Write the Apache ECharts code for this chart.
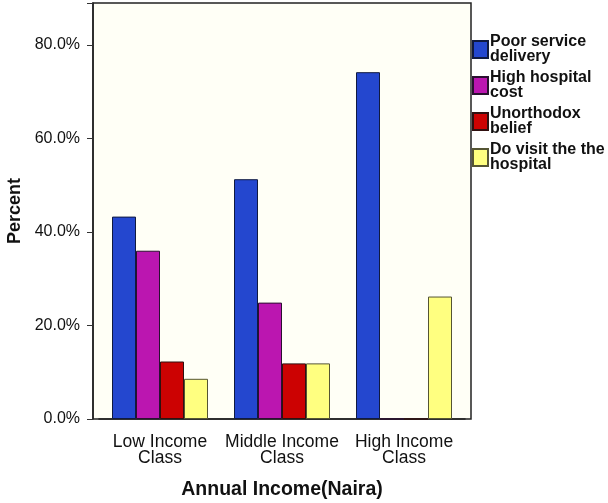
<!DOCTYPE html>
<html>
<head>
<meta charset="utf-8">
<script src="https://cdn.jsdelivr.net/npm/echarts@6/dist/echarts.min.js"></script>
<style>html,body{margin:0;padding:0;background:#fff;}#c{width:608px;height:503px;}</style>
</head>
<body>
<div id="c"></div>
<script>
const categories = ['Low Income\nClass', 'Middle Income\nClass', 'High Income\nClass'];
const seriesNames = ['Poor service delivery', 'High hospital cost', 'Unorthodox belief', 'Do visit the the hospital'];
const legendLabels = ['Poor service\ndelivery', 'High hospital\ncost', 'Unorthodox\nbelief', 'Do visit the the\nhospital'];
const poorService = [43.3, 51.3, 74.2];
const highCost = [36.0, 24.9, 0];
const unorthodox = [12.3, 11.9, 0];
const doVisit = [8.6, 11.9, 26.2];
const yTicks = [0, 20, 40, 60, 80];

const values = [poorService, highCost, unorthodox, doVisit];
const colors = ['#2447cf', '#bb16b0', '#cc0202', '#ffff80'];
const borders = ['#101a40', '#2a1030', '#301010', '#555533'];
const font = 'Liberation Sans, Arial, sans-serif';

const chart = echarts.init(document.getElementById('c'));
chart.setOption({
  animation: false,
  backgroundColor: '#ffffff',
  graphic: [{
    type: 'rect', z: -10, silent: true,
    shape: { x: 93, y: 3, width: 378, height: 416 },
    style: { fill: '#fffff6', stroke: '#222', lineWidth: 1.5 }
  }],
  grid: { left: 99, right: 143, top: 3, bottom: 84, containLabel: false, outerBoundsMode: 'none' },
  legend: {
    orient: 'vertical', left: 472, top: 34, padding: 0,
    itemWidth: 15, itemHeight: 17, itemGap: 5,
    icon: 'rect',
    data: seriesNames,
    formatter: n => legendLabels[seriesNames.indexOf(n)],
    textStyle: { fontFamily: font, fontSize: 16, fontWeight: 'bold', color: '#111', lineHeight: 15, padding: [0, 0, 0, -3] }
  },
  xAxis: {
    type: 'category', data: categories,
    name: 'Annual Income(Naira)', nameLocation: 'middle', nameGap: 61,
    nameTextStyle: { fontFamily: font, fontSize: 19.5, fontWeight: 'bold', color: '#111' },
    axisLine: { lineStyle: { color: '#222', width: 1.5 } },
    axisTick: { alignWithLabel: true, length: 10, lineStyle: { color: '#333' } },
    axisLabel: { interval: 0, fontFamily: font, fontSize: 17.5, color: '#111', margin: 15, lineHeight: 16 }
  },
  yAxis: {
    type: 'value', min: 0, max: 89, interval: 20, offset: 6,
    name: 'Percent', nameLocation: 'middle', nameGap: 60, nameRotate: 90,
    nameTextStyle: { fontFamily: font, fontSize: 18, fontWeight: 'bold', color: '#111' },
    axisLine: { show: true, lineStyle: { color: '#222', width: 1.5 } },
    axisTick: { show: true, length: 6, lineStyle: { color: '#333' } },
    splitLine: { show: false },
    axisLabel: {
      fontFamily: font, fontSize: 16, color: '#111', margin: 13,
      formatter: v => yTicks.includes(v) ? v.toFixed(1) + '%' : ''
    }
  },
  series: values.map((d, i) => ({
    type: 'bar', name: seriesNames[i], data: d,
    barWidth: 24, barGap: '0%',
    itemStyle: { color: colors[i], borderColor: borders[i], borderWidth: 1 }
  }))
});
</script>
</body>
</html>
